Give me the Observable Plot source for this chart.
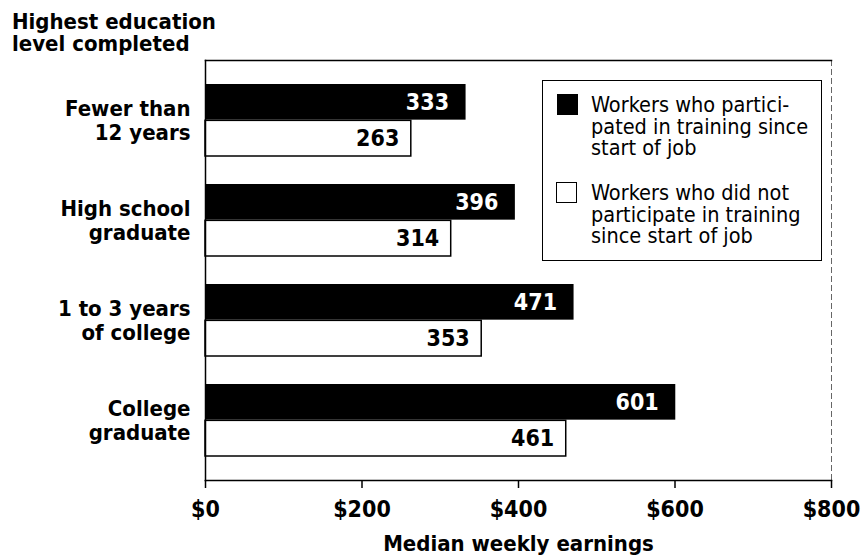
<!DOCTYPE html>
<html>
<head>
<meta charset="utf-8">
<script src="https://cdn.jsdelivr.net/npm/d3@7"></script>
<script src="https://cdn.jsdelivr.net/npm/@observablehq/plot@0.6"></script>
<style>
  html, body { margin: 0; padding: 0; background: #fff; }
  #wrap { position: relative; width: 863px; height: 560px; overflow: hidden; font-family: "DejaVu Sans Condensed", "DejaVu Sans", sans-serif; color: #000; }
  #chart { position: absolute; left: 0; top: 0; }
  .title { position: absolute; left: 12px; top: 10.5px; font-weight: bold; font-size: 22px; line-height: 22.5px; white-space: pre; }
  .legend { position: absolute; left: 542px; top: 80px; width: 280px; height: 181px; box-sizing: border-box; border: 1.5px solid #000; border-right-width: 1px; }
  .sw { position: absolute; width: 21px; height: 21px; box-sizing: border-box; }
  .lt { position: absolute; font-size: 21.5px; line-height: 21.5px; white-space: pre; }
</style>
</head>
<body>
<div id="wrap">
  <div id="chart"></div>
  <div class="title">Highest education
level completed</div>
  <div class="legend"></div>
  <div class="sw" style="left:557px;top:94px;background:#000;"></div>
  <div class="lt" id="leg1" style="left:591px;top:94px;"></div>
  <div class="sw" style="left:556px;top:182px;background:#fff;border:1.5px solid #000;"></div>
  <div class="lt" id="leg2" style="left:591px;top:182px;"></div>
</div>
<script>
// ---- data ----
const categories = ["Fewer than\n12 years", "High school\ngraduate", "1 to 3 years\nof college", "College\ngraduate"];
const trained = [333, 396, 471, 601];
const notTrained = [263, 314, 353, 461];
const xTicks = [0, 200, 400, 600, 800];
const seriesNames = ["Workers who partici-\npated in training since\nstart of job", "Workers who did not\nparticipate in training\nsince start of job"];
const xLabel = "Median weekly earnings";

document.getElementById("leg1").textContent = seriesNames[0];
document.getElementById("leg2").textContent = seriesNames[1];

const FONT = "DejaVu Sans Condensed";
const width = 863, height = 560;
const margin = {top: 60, right: 32, bottom: 80, left: 205};
const padInner = 0.28, padOuter = 0.22;

const bw = d3.scaleBand().domain(categories)
  .range([margin.top, height - margin.bottom])
  .paddingInner(padInner).paddingOuter(padOuter).bandwidth();

const dataT = categories.map((c, i) => ({category: c, value: trained[i]}));
const dataN = categories.map((c, i) => ({category: c, value: notTrained[i]}));

const chart = Plot.plot({
  width, height,
  marginTop: margin.top, marginRight: margin.right, marginBottom: margin.bottom, marginLeft: margin.left,
  style: {fontFamily: FONT, fontSize: "20px", background: "#fff", color: "#000"},
  x: {domain: [0, 800], axis: null},
  y: {domain: categories, paddingInner: padInner, paddingOuter: padOuter, axis: null},
  marks: [
    Plot.barX(dataT, {x: "value", y: "category", fill: "#000", insetBottom: bw / 2}),
    Plot.barX(dataN, {x: "value", y: "category", fill: "#fff", stroke: "#000", strokeWidth: 1.5, insetTop: bw / 2}),
    Plot.text(dataT, {x: "value", y: "category", text: d => String(d.value), dy: -bw / 4, dx: -17, textAnchor: "end", fill: "#fff", fontFamily: FONT, fontWeight: "bold", fontSize: 23}),
    Plot.text(dataN, {x: "value", y: "category", text: d => String(d.value), dy: bw / 4, dx: -12, textAnchor: "end", fill: "#000", fontFamily: FONT, fontWeight: "bold", fontSize: 23}),
    Plot.frame({anchor: "top", stroke: "#000", strokeWidth: 1.5}),
    Plot.frame({anchor: "left", stroke: "#000", strokeWidth: 1.5}),
    Plot.frame({anchor: "bottom", stroke: "#000", strokeWidth: 1.5}),
    Plot.frame({anchor: "right", stroke: "#000", strokeWidth: 1, strokeDasharray: "5,4", strokeOpacity: 0.6}),
    Plot.axisY({tickSize: 0, tickPadding: 15, fontFamily: FONT, fontSize: 22, fontWeight: "bold", lineHeight: 1.09, label: null}),
    Plot.axisX({ticks: xTicks, tickFormat: d => "$" + d, tickSize: 8, tickPadding: 12, strokeWidth: 1.5, fontFamily: FONT, fontSize: 23, fontWeight: "bold", label: null}),
    Plot.text([xLabel], {frameAnchor: "bottom", dy: 70, fontFamily: FONT, fontSize: 22, fontWeight: "bold"})
  ]
});
document.getElementById("chart").appendChild(chart);
</script>
</body>
</html>
